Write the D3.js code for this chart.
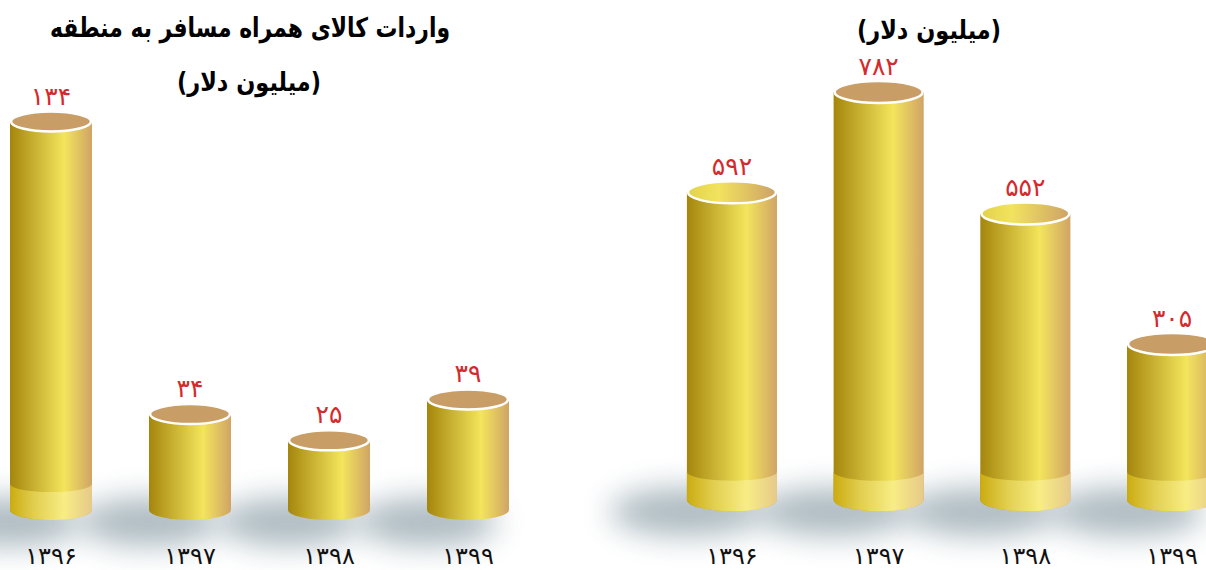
<!DOCTYPE html>
<html>
<head>
<meta charset="utf-8">
<script src="https://cdn.jsdelivr.net/npm/d3@7"></script>
<style>
  body { margin: 0; background: #fff; }
  text { font-family: "DejaVu Sans", "Noto Sans", sans-serif; }
</style>
</head>
<body>
<div class="canvas"></div>
<script>
const width = 1206;
const height = 570;

// data
const years = ["1396", "1397", "1398", "1399"];
const yearLabels = ["۱۳۹۶", "۱۳۹۷", "۱۳۹۸", "۱۳۹۹"];
const importValues = [134, 34, 25, 39];
const importLabels = ["۱۳۴", "۳۴", "۲۵", "۳۹"];
const otherValues = [592, 782, 552, 305];
const otherLabels = ["۵۹۲", "۷۸۲", "۵۵۲", "۳۰۵"];
const leftTitle = "واردات کالای همراه مسافر به منطقه";
const unitTitle = "(میلیون دلار)";

const svg = d3.select(".canvas")
    .append("svg")
    .attr("width", width)
    .attr("height", height)

const defs = svg.append("defs")

function grad(id, stops) {
    const g = defs.append("linearGradient").attr("id", id)
        .attr("x1", "0%").attr("x2", "100%").attr("y1", "0%").attr("y2", "0%")
    stops.forEach(s => g.append("stop").attr("offset", s[0]).attr("stop-color", s[1]))
}
grad("body", [["0%", "#a4860c"], ["30%", "#c9b132"], ["66%", "#f3e55c"], ["100%", "#d0a466"]])
grad("band", [["0%", "#cbab10"], ["30%", "#e2cf50"], ["66%", "#f8ed84"], ["100%", "#e6c98a"]])
grad("topYellow", [["0%", "#e3d24a"], ["35%", "#f2e35e"], ["100%", "#cda267"]])

defs.append("filter").attr("id", "blur")
    .attr("x", "-80%").attr("y", "-150%").attr("width", "260%").attr("height", "400%")
    .append("feGaussianBlur").attr("stdDeviation", 15)

function drawPanel(opt) {
    const x = d3.scaleBand()
        .domain(years)
        .range(opt.xRange)
        .paddingInner(opt.pad)
        .paddingOuter(opt.pad / 2)
    const y = d3.scaleLinear()
        .domain([0, opt.max])
        .range(opt.yRange)

    const g = svg.append("g")
    const bw = x.bandwidth()
    const rx = bw / 2
    const ry = opt.ry
    const base = opt.base

    const data = years.map((yr, i) => ({ yr, v: opt.values[i], label: opt.labels[i], yl: yearLabels[i] }))

    // shadows
    g.selectAll("ellipse.shadow")
        .data(data)
        .enter()
        .append("ellipse")
        .attr("class", "shadow")
        .attr("cx", d => x(d.yr) + rx - bw * 0.5)
        .attr("cy", base + 12)
        .attr("rx", bw * 0.85)
        .attr("ry", 24)
        .attr("fill", "#52707e")
        .attr("opacity", 0.48)
        .attr("filter", "url(#blur)")

    const bars = g.selectAll("g.bar")
        .data(data)
        .enter()
        .append("g")
        .attr("class", "bar")

    bars.append("path")
        .attr("fill", "url(#body)")
        .attr("d", d => {
            const x0 = x(d.yr), x1 = x0 + bw, t = y(d.v)
            return `M${x0},${t}L${x0},${base}A${rx},${ry} 0 0 0 ${x1},${base}L${x1},${t}Z`
        })

    bars.filter(d => base - y(d.v) > 130)
        .append("path")
        .attr("fill", "url(#band)")
        .attr("d", d => {
            const x0 = x(d.yr), x1 = x0 + bw, bt = base - opt.band
            return `M${x0},${bt}A${rx},${ry * 0.8} 0 0 0 ${x1},${bt}L${x1},${base}A${rx},${ry} 0 0 1 ${x0},${base}Z`
        })

    bars.append("ellipse")
        .attr("cx", d => x(d.yr) + rx)
        .attr("cy", d => y(d.v))
        .attr("rx", rx - 1)
        .attr("ry", ry)
        .attr("fill", d => opt.yellowTops.includes(d.yr) ? "url(#topYellow)" : "#c99d66")
        .attr("stroke", "#fff")
        .attr("stroke-width", 2.5)

    bars.append("text")
        .attr("x", d => x(d.yr) + rx)
        .attr("y", d => y(d.v) - 17)
        .attr("text-anchor", "middle")
        .attr("fill", "#d42a2e")
        .attr("font-size", 25)
        .text(d => d.label)

    bars.append("text")
        .attr("x", d => x(d.yr) + rx)
        .attr("y", 564)
        .attr("text-anchor", "middle")
        .attr("fill", "#111")
        .attr("font-size", 24)
        .text(d => d.yl)
}

drawPanel({
    values: importValues, labels: importLabels, max: 134,
    xRange: [-18.5, 537.5], pad: 0.41,
    yRange: [513.5, 121.5], base: 510, ry: 10, band: 26,
    yellowTops: []
})

drawPanel({
    values: otherValues, labels: otherLabels, max: 782,
    xRange: [658.6, 1245.4], pad: 0.386,
    yRange: [505, 92], base: 500, ry: 11, band: 28,
    yellowTops: ["1396", "1398"]
})

// titles
svg.append("text")
    .attr("x", 250).attr("y", 37)
    .attr("text-anchor", "middle")
    .attr("font-size", 27).attr("font-weight", "bold")
    .attr("direction", "rtl")
    .attr("textLength", 400).attr("lengthAdjust", "spacingAndGlyphs")
    .text(leftTitle)

svg.append("text")
    .attr("x", 249).attr("y", 91)
    .attr("text-anchor", "middle")
    .attr("font-size", 26).attr("font-weight", "bold")
    .attr("direction", "rtl")
    .attr("textLength", 144).attr("lengthAdjust", "spacingAndGlyphs")
    .text(unitTitle)

svg.append("text")
    .attr("x", 929).attr("y", 39)
    .attr("text-anchor", "middle")
    .attr("font-size", 26).attr("font-weight", "bold")
    .attr("direction", "rtl")
    .attr("textLength", 144).attr("lengthAdjust", "spacingAndGlyphs")
    .text(unitTitle)
</script>
</body>
</html>
